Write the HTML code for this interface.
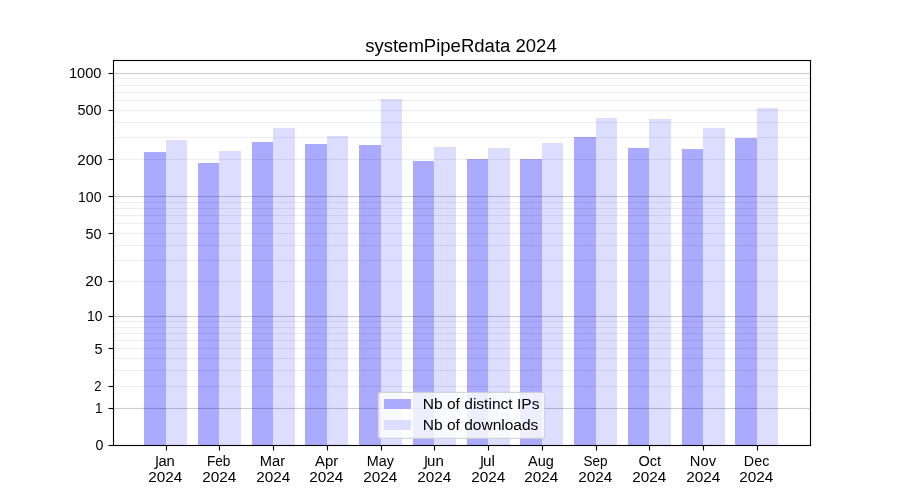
<!DOCTYPE html><html><head><meta charset="utf-8"><title>systemPipeRdata 2024</title><style>html,body{margin:0;padding:0;background:#fff;}body{width:900px;height:500px;overflow:hidden}svg{display:block;will-change:transform}text{font-family:"Liberation Sans",sans-serif;fill:#000}</style></head><body>
<svg width="900" height="500" viewBox="0 0 900 500">
<rect x="0" y="0" width="900" height="500" fill="#fff"/>
<rect x="144" y="152" width="22" height="293" fill="#aaaaff"/>
<rect x="198" y="163" width="21" height="282" fill="#aaaaff"/>
<rect x="252" y="142" width="21" height="303" fill="#aaaaff"/>
<rect x="305" y="144" width="22" height="301" fill="#aaaaff"/>
<rect x="359" y="145" width="22" height="300" fill="#aaaaff"/>
<rect x="413" y="161" width="21" height="284" fill="#aaaaff"/>
<rect x="467" y="159" width="21" height="286" fill="#aaaaff"/>
<rect x="520" y="159" width="22" height="286" fill="#aaaaff"/>
<rect x="574" y="137" width="22" height="308" fill="#aaaaff"/>
<rect x="628" y="148" width="21" height="297" fill="#aaaaff"/>
<rect x="682" y="149" width="21" height="296" fill="#aaaaff"/>
<rect x="735" y="138" width="22" height="307" fill="#aaaaff"/>
<rect x="166" y="140" width="21" height="305" fill="#ddddff"/>
<rect x="219" y="151" width="22" height="294" fill="#ddddff"/>
<rect x="273" y="128" width="22" height="317" fill="#ddddff"/>
<rect x="327" y="136" width="21" height="309" fill="#ddddff"/>
<rect x="381" y="99" width="21" height="346" fill="#ddddff"/>
<rect x="434" y="147" width="22" height="298" fill="#ddddff"/>
<rect x="488" y="148" width="22" height="297" fill="#ddddff"/>
<rect x="542" y="143" width="21" height="302" fill="#ddddff"/>
<rect x="596" y="118" width="21" height="327" fill="#ddddff"/>
<rect x="649" y="119" width="22" height="326" fill="#ddddff"/>
<rect x="703" y="128" width="22" height="317" fill="#ddddff"/>
<rect x="757" y="108" width="21" height="337" fill="#ddddff"/>
<rect x="113.500" y="386" width="697.000" height="1" fill="#000" fill-opacity="0.0700"/>
<rect x="113.500" y="385" width="697.000" height="1" fill="#000" fill-opacity="0.0039"/>
<rect x="113.500" y="387" width="697.000" height="1" fill="#000" fill-opacity="0.0039"/>
<rect x="113.500" y="370" width="697.000" height="1" fill="#000" fill-opacity="0.0700"/>
<rect x="113.500" y="369" width="697.000" height="1" fill="#000" fill-opacity="0.0039"/>
<rect x="113.500" y="371" width="697.000" height="1" fill="#000" fill-opacity="0.0039"/>
<rect x="113.500" y="358" width="697.000" height="1" fill="#000" fill-opacity="0.0700"/>
<rect x="113.500" y="357" width="697.000" height="1" fill="#000" fill-opacity="0.0039"/>
<rect x="113.500" y="359" width="697.000" height="1" fill="#000" fill-opacity="0.0039"/>
<rect x="113.500" y="348" width="697.000" height="1" fill="#000" fill-opacity="0.0700"/>
<rect x="113.500" y="347" width="697.000" height="1" fill="#000" fill-opacity="0.0039"/>
<rect x="113.500" y="349" width="697.000" height="1" fill="#000" fill-opacity="0.0039"/>
<rect x="113.500" y="340" width="697.000" height="1" fill="#000" fill-opacity="0.0700"/>
<rect x="113.500" y="339" width="697.000" height="1" fill="#000" fill-opacity="0.0039"/>
<rect x="113.500" y="341" width="697.000" height="1" fill="#000" fill-opacity="0.0039"/>
<rect x="113.500" y="333" width="697.000" height="1" fill="#000" fill-opacity="0.0700"/>
<rect x="113.500" y="332" width="697.000" height="1" fill="#000" fill-opacity="0.0039"/>
<rect x="113.500" y="334" width="697.000" height="1" fill="#000" fill-opacity="0.0039"/>
<rect x="113.500" y="327" width="697.000" height="1" fill="#000" fill-opacity="0.0700"/>
<rect x="113.500" y="326" width="697.000" height="1" fill="#000" fill-opacity="0.0039"/>
<rect x="113.500" y="328" width="697.000" height="1" fill="#000" fill-opacity="0.0039"/>
<rect x="113.500" y="321" width="697.000" height="1" fill="#000" fill-opacity="0.0700"/>
<rect x="113.500" y="320" width="697.000" height="1" fill="#000" fill-opacity="0.0039"/>
<rect x="113.500" y="322" width="697.000" height="1" fill="#000" fill-opacity="0.0039"/>
<rect x="113.500" y="281" width="697.000" height="1" fill="#000" fill-opacity="0.0700"/>
<rect x="113.500" y="280" width="697.000" height="1" fill="#000" fill-opacity="0.0039"/>
<rect x="113.500" y="282" width="697.000" height="1" fill="#000" fill-opacity="0.0039"/>
<rect x="113.500" y="260" width="697.000" height="1" fill="#000" fill-opacity="0.0700"/>
<rect x="113.500" y="259" width="697.000" height="1" fill="#000" fill-opacity="0.0039"/>
<rect x="113.500" y="261" width="697.000" height="1" fill="#000" fill-opacity="0.0039"/>
<rect x="113.500" y="245" width="697.000" height="1" fill="#000" fill-opacity="0.0700"/>
<rect x="113.500" y="244" width="697.000" height="1" fill="#000" fill-opacity="0.0039"/>
<rect x="113.500" y="246" width="697.000" height="1" fill="#000" fill-opacity="0.0039"/>
<rect x="113.500" y="233" width="697.000" height="1" fill="#000" fill-opacity="0.0700"/>
<rect x="113.500" y="232" width="697.000" height="1" fill="#000" fill-opacity="0.0039"/>
<rect x="113.500" y="234" width="697.000" height="1" fill="#000" fill-opacity="0.0039"/>
<rect x="113.500" y="223" width="697.000" height="1" fill="#000" fill-opacity="0.0700"/>
<rect x="113.500" y="222" width="697.000" height="1" fill="#000" fill-opacity="0.0039"/>
<rect x="113.500" y="224" width="697.000" height="1" fill="#000" fill-opacity="0.0039"/>
<rect x="113.500" y="215" width="697.000" height="1" fill="#000" fill-opacity="0.0700"/>
<rect x="113.500" y="214" width="697.000" height="1" fill="#000" fill-opacity="0.0039"/>
<rect x="113.500" y="216" width="697.000" height="1" fill="#000" fill-opacity="0.0039"/>
<rect x="113.500" y="208" width="697.000" height="1" fill="#000" fill-opacity="0.0700"/>
<rect x="113.500" y="207" width="697.000" height="1" fill="#000" fill-opacity="0.0039"/>
<rect x="113.500" y="209" width="697.000" height="1" fill="#000" fill-opacity="0.0039"/>
<rect x="113.500" y="202" width="697.000" height="1" fill="#000" fill-opacity="0.0700"/>
<rect x="113.500" y="201" width="697.000" height="1" fill="#000" fill-opacity="0.0039"/>
<rect x="113.500" y="203" width="697.000" height="1" fill="#000" fill-opacity="0.0039"/>
<rect x="113.500" y="159" width="697.000" height="1" fill="#000" fill-opacity="0.0700"/>
<rect x="113.500" y="158" width="697.000" height="1" fill="#000" fill-opacity="0.0039"/>
<rect x="113.500" y="160" width="697.000" height="1" fill="#000" fill-opacity="0.0039"/>
<rect x="113.500" y="137" width="697.000" height="1" fill="#000" fill-opacity="0.0700"/>
<rect x="113.500" y="136" width="697.000" height="1" fill="#000" fill-opacity="0.0039"/>
<rect x="113.500" y="138" width="697.000" height="1" fill="#000" fill-opacity="0.0039"/>
<rect x="113.500" y="122" width="697.000" height="1" fill="#000" fill-opacity="0.0700"/>
<rect x="113.500" y="121" width="697.000" height="1" fill="#000" fill-opacity="0.0039"/>
<rect x="113.500" y="123" width="697.000" height="1" fill="#000" fill-opacity="0.0039"/>
<rect x="113.500" y="110" width="697.000" height="1" fill="#000" fill-opacity="0.0700"/>
<rect x="113.500" y="109" width="697.000" height="1" fill="#000" fill-opacity="0.0039"/>
<rect x="113.500" y="111" width="697.000" height="1" fill="#000" fill-opacity="0.0039"/>
<rect x="113.500" y="100" width="697.000" height="1" fill="#000" fill-opacity="0.0700"/>
<rect x="113.500" y="99" width="697.000" height="1" fill="#000" fill-opacity="0.0039"/>
<rect x="113.500" y="101" width="697.000" height="1" fill="#000" fill-opacity="0.0039"/>
<rect x="113.500" y="92" width="697.000" height="1" fill="#000" fill-opacity="0.0700"/>
<rect x="113.500" y="91" width="697.000" height="1" fill="#000" fill-opacity="0.0039"/>
<rect x="113.500" y="93" width="697.000" height="1" fill="#000" fill-opacity="0.0039"/>
<rect x="113.500" y="85" width="697.000" height="1" fill="#000" fill-opacity="0.0700"/>
<rect x="113.500" y="84" width="697.000" height="1" fill="#000" fill-opacity="0.0039"/>
<rect x="113.500" y="86" width="697.000" height="1" fill="#000" fill-opacity="0.0039"/>
<rect x="113.500" y="78" width="697.000" height="1" fill="#000" fill-opacity="0.0700"/>
<rect x="113.500" y="77" width="697.000" height="1" fill="#000" fill-opacity="0.0039"/>
<rect x="113.500" y="79" width="697.000" height="1" fill="#000" fill-opacity="0.0039"/>
<rect x="113.500" y="408" width="697.000" height="1" fill="#000" fill-opacity="0.2000"/>
<rect x="113.500" y="407" width="697.000" height="1" fill="#000" fill-opacity="0.0111"/>
<rect x="113.500" y="409" width="697.000" height="1" fill="#000" fill-opacity="0.0111"/>
<rect x="113.500" y="316" width="697.000" height="1" fill="#000" fill-opacity="0.2000"/>
<rect x="113.500" y="315" width="697.000" height="1" fill="#000" fill-opacity="0.0111"/>
<rect x="113.500" y="317" width="697.000" height="1" fill="#000" fill-opacity="0.0111"/>
<rect x="113.500" y="196" width="697.000" height="1" fill="#000" fill-opacity="0.2000"/>
<rect x="113.500" y="195" width="697.000" height="1" fill="#000" fill-opacity="0.0111"/>
<rect x="113.500" y="197" width="697.000" height="1" fill="#000" fill-opacity="0.0111"/>
<rect x="113.500" y="73" width="697.000" height="1" fill="#000" fill-opacity="0.2000"/>
<rect x="113.500" y="72" width="697.000" height="1" fill="#000" fill-opacity="0.0111"/>
<rect x="113.500" y="74" width="697.000" height="1" fill="#000" fill-opacity="0.0111"/>
<line x1="113.5" y1="59.9445" x2="113.5" y2="446.0555" stroke="#000" stroke-width="1.111"/>
<line x1="810.5" y1="59.9445" x2="810.5" y2="446.0555" stroke="#000" stroke-width="1.111"/>
<rect x="112.945" y="60" width="698.111" height="1" fill="#000" fill-opacity="1.0000"/>
<rect x="112.945" y="59" width="698.111" height="1" fill="#000" fill-opacity="0.0555"/>
<rect x="112.945" y="61" width="698.111" height="1" fill="#000" fill-opacity="0.0555"/>
<rect x="112.945" y="445" width="698.111" height="1" fill="#000" fill-opacity="1.0000"/>
<rect x="112.945" y="444" width="698.111" height="1" fill="#000" fill-opacity="0.0555"/>
<rect x="112.945" y="446" width="698.111" height="1" fill="#000" fill-opacity="0.0555"/>
<rect x="108.500" y="445" width="5.000" height="1" fill="#000" fill-opacity="1.0000"/>
<rect x="108.500" y="444" width="5.000" height="1" fill="#000" fill-opacity="0.0555"/>
<rect x="108.500" y="446" width="5.000" height="1" fill="#000" fill-opacity="0.0555"/>
<rect x="108.500" y="408" width="5.000" height="1" fill="#000" fill-opacity="1.0000"/>
<rect x="108.500" y="407" width="5.000" height="1" fill="#000" fill-opacity="0.0555"/>
<rect x="108.500" y="409" width="5.000" height="1" fill="#000" fill-opacity="0.0555"/>
<rect x="108.500" y="386" width="5.000" height="1" fill="#000" fill-opacity="1.0000"/>
<rect x="108.500" y="385" width="5.000" height="1" fill="#000" fill-opacity="0.0555"/>
<rect x="108.500" y="387" width="5.000" height="1" fill="#000" fill-opacity="0.0555"/>
<rect x="108.500" y="348" width="5.000" height="1" fill="#000" fill-opacity="1.0000"/>
<rect x="108.500" y="347" width="5.000" height="1" fill="#000" fill-opacity="0.0555"/>
<rect x="108.500" y="349" width="5.000" height="1" fill="#000" fill-opacity="0.0555"/>
<rect x="108.500" y="316" width="5.000" height="1" fill="#000" fill-opacity="1.0000"/>
<rect x="108.500" y="315" width="5.000" height="1" fill="#000" fill-opacity="0.0555"/>
<rect x="108.500" y="317" width="5.000" height="1" fill="#000" fill-opacity="0.0555"/>
<rect x="108.500" y="281" width="5.000" height="1" fill="#000" fill-opacity="1.0000"/>
<rect x="108.500" y="280" width="5.000" height="1" fill="#000" fill-opacity="0.0555"/>
<rect x="108.500" y="282" width="5.000" height="1" fill="#000" fill-opacity="0.0555"/>
<rect x="108.500" y="233" width="5.000" height="1" fill="#000" fill-opacity="1.0000"/>
<rect x="108.500" y="232" width="5.000" height="1" fill="#000" fill-opacity="0.0555"/>
<rect x="108.500" y="234" width="5.000" height="1" fill="#000" fill-opacity="0.0555"/>
<rect x="108.500" y="196" width="5.000" height="1" fill="#000" fill-opacity="1.0000"/>
<rect x="108.500" y="195" width="5.000" height="1" fill="#000" fill-opacity="0.0555"/>
<rect x="108.500" y="197" width="5.000" height="1" fill="#000" fill-opacity="0.0555"/>
<rect x="108.500" y="159" width="5.000" height="1" fill="#000" fill-opacity="1.0000"/>
<rect x="108.500" y="158" width="5.000" height="1" fill="#000" fill-opacity="0.0555"/>
<rect x="108.500" y="160" width="5.000" height="1" fill="#000" fill-opacity="0.0555"/>
<rect x="108.500" y="110" width="5.000" height="1" fill="#000" fill-opacity="1.0000"/>
<rect x="108.500" y="109" width="5.000" height="1" fill="#000" fill-opacity="0.0555"/>
<rect x="108.500" y="111" width="5.000" height="1" fill="#000" fill-opacity="0.0555"/>
<rect x="108.500" y="73" width="5.000" height="1" fill="#000" fill-opacity="1.0000"/>
<rect x="108.500" y="72" width="5.000" height="1" fill="#000" fill-opacity="0.0555"/>
<rect x="108.500" y="74" width="5.000" height="1" fill="#000" fill-opacity="0.0555"/>
<line x1="166.5" y1="445.5" x2="166.5" y2="450.5" stroke="#000" stroke-width="1.111"/>
<line x1="219.5" y1="445.5" x2="219.5" y2="450.5" stroke="#000" stroke-width="1.111"/>
<line x1="273.5" y1="445.5" x2="273.5" y2="450.5" stroke="#000" stroke-width="1.111"/>
<line x1="327.5" y1="445.5" x2="327.5" y2="450.5" stroke="#000" stroke-width="1.111"/>
<line x1="381.5" y1="445.5" x2="381.5" y2="450.5" stroke="#000" stroke-width="1.111"/>
<line x1="434.5" y1="445.5" x2="434.5" y2="450.5" stroke="#000" stroke-width="1.111"/>
<line x1="488.5" y1="445.5" x2="488.5" y2="450.5" stroke="#000" stroke-width="1.111"/>
<line x1="542.5" y1="445.5" x2="542.5" y2="450.5" stroke="#000" stroke-width="1.111"/>
<line x1="596.5" y1="445.5" x2="596.5" y2="450.5" stroke="#000" stroke-width="1.111"/>
<line x1="649.5" y1="445.5" x2="649.5" y2="450.5" stroke="#000" stroke-width="1.111"/>
<line x1="703.5" y1="445.5" x2="703.5" y2="450.5" stroke="#000" stroke-width="1.111"/>
<line x1="757.5" y1="445.5" x2="757.5" y2="450.5" stroke="#000" stroke-width="1.111"/>
<text font-size="17.66" transform="matrix(1.0502 0 0 1.0000 365.129 52.000)">systemPipeRdata 2024</text>
<text font-size="14.7" transform="matrix(0.9718 0 0 1.0000 95.571 450.000)">0</text>
<text font-size="14.7" transform="matrix(0.9276 0 0 1.0000 95.045 413.000)">1</text>
<text font-size="14.7" transform="matrix(0.8873 0 0 1.0000 94.348 391.000)">2</text>
<text font-size="14.7" transform="matrix(0.9921 0 0 1.0000 94.417 354.000)">5</text>
<text font-size="14.7" transform="matrix(0.9466 0 0 1.0000 87.026 321.000)">10</text>
<text font-size="14.7" transform="matrix(1.0607 0 0 1.0000 85.220 286.000)">20</text>
<text font-size="14.7" transform="matrix(0.9848 0 0 1.0000 85.421 239.000)">50</text>
<text font-size="14.7" transform="matrix(0.9579 0 0 1.0000 78.014 202.000)">100</text>
<text font-size="14.7" transform="matrix(1.0318 0 0 1.0000 77.242 165.000)">200</text>
<text font-size="14.7" transform="matrix(0.9826 0 0 1.0000 77.422 115.000)">500</text>
<text font-size="14.7" transform="matrix(0.9955 0 0 1.0000 68.976 78.000)">1000</text>
<path d="M157.03 456 V466 Q157.03 468.35 155.23 468.4 H154.28" fill="none" stroke="#000" stroke-width="1.3"/>
<text font-size="14.7" transform="matrix(1.0042 0 0 1.0000 158.410 466.000)">an</text>
<text font-size="14.7" transform="matrix(1.0449 0 0 1.0000 148.232 482.000)">2024</text>
<text font-size="14.7" transform="matrix(0.9313 0 0 1.0000 206.905 466.000)">Feb</text>
<text font-size="14.7" transform="matrix(1.0449 0 0 1.0000 202.232 482.000)">2024</text>
<text font-size="14.7" transform="matrix(1.0021 0 0 1.0000 259.821 466.000)">Mar</text>
<text font-size="14.7" transform="matrix(1.0449 0 0 1.0000 256.232 482.000)">2024</text>
<text font-size="14.7" transform="matrix(1.0139 0 0 1.0000 315.000 466.000)">Apr</text>
<text font-size="14.7" transform="matrix(1.0449 0 0 1.0000 309.232 482.000)">2024</text>
<text font-size="14.7" transform="matrix(0.9776 0 0 1.0000 366.850 466.000)">May</text>
<text font-size="14.7" transform="matrix(1.0449 0 0 1.0000 363.232 482.000)">2024</text>
<path d="M426.03 456 V466 Q426.03 468.35 424.23 468.4 H423.28" fill="none" stroke="#000" stroke-width="1.3"/>
<text font-size="14.7" transform="matrix(1.0243 0 0 1.0000 427.097 466.000)">un</text>
<text font-size="14.7" transform="matrix(1.0449 0 0 1.0000 417.232 482.000)">2024</text>
<path d="M482.03 456 V466 Q482.03 468.35 480.23 468.4 H479.28" fill="none" stroke="#000" stroke-width="1.3"/>
<text font-size="14.7" transform="matrix(1.0368 0 0 1.0000 483.086 466.000)">ul</text>
<text font-size="14.7" transform="matrix(1.0449 0 0 1.0000 471.232 482.000)">2024</text>
<text font-size="14.7" transform="matrix(0.9870 0 0 1.0000 528.000 466.000)">Aug</text>
<text font-size="14.7" transform="matrix(1.0449 0 0 1.0000 524.232 482.000)">2024</text>
<text font-size="14.7" transform="matrix(0.9187 0 0 1.0000 583.460 466.000)">Sep</text>
<text font-size="14.7" transform="matrix(1.0449 0 0 1.0000 578.232 482.000)">2024</text>
<text font-size="14.7" transform="matrix(0.9860 0 0 1.0000 638.420 466.000)">Oct</text>
<text font-size="14.7" transform="matrix(1.0449 0 0 1.0000 632.232 482.000)">2024</text>
<text font-size="14.7" transform="matrix(1.0014 0 0 1.0000 689.822 466.000)">Nov</text>
<text font-size="14.7" transform="matrix(1.0449 0 0 1.0000 686.232 482.000)">2024</text>
<text font-size="14.7" transform="matrix(0.9728 0 0 1.0000 743.856 466.000)">Dec</text>
<text font-size="14.7" transform="matrix(1.0449 0 0 1.0000 739.232 482.000)">2024</text>
<rect x="378.225" y="392.350" width="166.250" height="46.056" rx="2.78" ry="2.78" fill="#fff" fill-opacity="0.8" stroke="#ccc" stroke-opacity="0.8" stroke-width="1.111"/>
<rect x="384" y="399" width="27" height="10" fill="#aaaaff"/>
<rect x="384" y="420" width="27" height="10" fill="#ddddff"/>
<text font-size="14.7" transform="matrix(1.0582 0 0 1.0000 422.756 409.000)">Nb of distinct IPs</text>
<text font-size="14.7" transform="matrix(1.0567 0 0 1.0000 422.757 430.000)">Nb of downloads</text>
</svg></body></html>
